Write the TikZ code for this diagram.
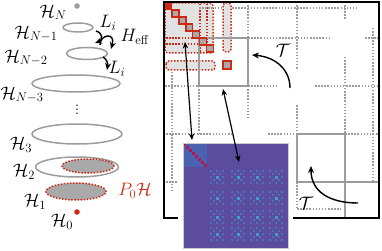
\RequirePackage{fix-cm}
\documentclass[tikz,border=0pt]{standalone}
\usetikzlibrary{arrows.meta}
\definecolor{gr}{HTML}{9C9C9C}
\definecolor{rd}{HTML}{CC2A14}
\definecolor{lg}{HTML}{E2E2E2}
\definecolor{mg}{HTML}{A8A9A8}
\definecolor{pu}{HTML}{5B4C9E}
\definecolor{bl}{HTML}{4A63B0}
\definecolor{bb}{HTML}{4E72BA}
\definecolor{cy}{HTML}{3EA0C8}
\definecolor{cr}{HTML}{B0164F}
\begin{document}
\begin{tikzpicture}[x=1pt,y=-1pt,font=\fontsize{18}{20}\selectfont,
  gdot/.style={gr,line width=1.5pt,dash pattern=on 1.5pt off 1.6pt},
  gsol/.style={gr,line width=1.4pt},
  rdot/.style={rd,line width=1.5pt,dash pattern=on 1.5pt off 1.6pt},
  rblk/.style={rdot,fill=lg,rounded corners=3pt},
  ell/.style={gr,line width=1.5pt},
  rell/.style={rdot,fill=mg},
  sq/.style={draw=rd,line width=1.6pt,fill=mg},
  arr/.style={line width=1.4pt,-{Stealth[length=7pt,width=6pt]}},
  darr/.style={line width=1.2pt,{Stealth[length=6.5pt,width=5.5pt]}-{Stealth[length=6.5pt,width=5.5pt]}},
  lab/.style={inner sep=0pt}]
\useasboundingbox (0,0) rectangle (382,251);
% ---------------- left tower ----------------
\node[lab] (hN) at (53,12.5) {$\mathcal{H}_N$};
\fill[gr] (77,6) circle (2.8pt);
\draw[ell] (78,27.5) ellipse [x radius=15pt,y radius=4.5pt];
\node[lab] (hN1) at (36,34) {$\mathcal{H}_{N-1}$};
\draw[ell] (87,53.5) ellipse [x radius=20.5pt,y radius=6pt];
\node[lab] (hN2) at (26,58) {$\mathcal{H}_{N-2}$};
\draw[ell] (76,83.5) ellipse [x radius=44pt,y radius=8.5pt];
\node[lab] (hN3) at (22,95) {$\mathcal{H}_{N-3}$};
\node[lab] (vd) at (77,107) {$\vdots$};
\draw[ell] (77,134) ellipse [x radius=45pt,y radius=10pt];
\node[lab] (h3) at (21,145) {$\mathcal{H}_3$};
\draw[ell] (77,167) ellipse [x radius=41.5pt,y radius=10pt];
\draw[rell] (88,166) ellipse [x radius=26pt,y radius=7pt];
\node[lab] (h2) at (24,172) {$\mathcal{H}_2$};
\draw[rell] (76,191.5) ellipse [x radius=30pt,y radius=8.5pt];
\node[lab] (h1) at (35,202) {$\mathcal{H}_1$};
\fill[rd] (77,212) circle (2.8pt);
\node[lab] (h0) at (62,222) {$\mathcal{H}_0$};
\node[lab,text=rd] (p0) at (135,191) {$P_0\mathcal{H}$};
\node[lab] (li1) at (108,23) {$L_i$};
\node[lab] (heff) at (135,37) {$H_{\mathrm{eff}}$};
\node[lab] (li2) at (117,69) {$L_i$};
\coordinate (a1s) at (96,31); \coordinate (a1e) at (95,43);
\coordinate (a2s) at (100,45); \coordinate (a2e) at (111,49);
\coordinate (a3s) at (103,57); \coordinate (a3e) at (107,70);
\draw[arr] (a1s) .. controls (103,33) and (103,40) .. (a1e);
\draw[arr] (a2s) .. controls (100,34) and (116,32) .. (a2e);
\draw[arr] (a3s) .. controls (107,59) and (108,64) .. (a3e);
% ---------------- matrix ----------------
\draw[rblk] (165,3) rectangle (213,53);
\draw[rdot] (166,38) -- (212,38);
\draw[rdot] (200,4) -- (200,52);
\draw[rdot] (207,4) -- (207,43);
\draw[rdot] (166,44) -- (206,44);
\draw[rblk] (223,3) rectangle (231,52);
\draw[rblk] (166,61) rectangle (215,70);
% gray grid
\draw[gdot] (199,8) -- (222,8) (232,8) -- (357,8);
\draw[gdot] (248,38) -- (330,38) (365,38) -- (379,38);
\draw[gdot] (165,86) -- (199,86) (248,86) -- (278,86) (315,86) -- (379,86);
\draw[gdot] (166,134) -- (232,134) (268,134) -- (297,134) (345,134) -- (379,134);
\draw[gdot] (166,182) -- (178,182);
\draw[gdot] (297,209) -- (341,209);
\draw[gdot] (172,72) -- (172,192);
\draw[gdot] (199,86) -- (199,134);
\draw[gdot] (248,2) -- (248,38) (248,86) -- (248,118);
\draw[gdot] (297,2) -- (297,70) (297,105) -- (297,134) (297,182) -- (297,209);
\draw[gdot] (345,2) -- (345,20) (345,57) -- (345,134);
\draw[gdot] (373,28) -- (373,180);
\draw[gsol] (199,38) rectangle (248,86);
\draw[gsol] (297,134) rectangle (345,182);
\draw[gsol] (345,182) -- (379,182) (345,182) -- (345,218);
% diagonal squares
\fill[rd] (165,3) rectangle (172,10);
\foreach \k in {1,...,6}{
  \draw[sq] ({165+6.9*\k},{3+7*\k}) rectangle ({165+6.9*(\k+1)},{3+7*(\k+1)});
}
\draw[sq] (223,61) rectangle (231,69);
% frame
\draw[line width=1.3pt] (164,2) rectangle (379,218);
% ---------------- inset ----------------
\fill[white] (178,138) rectangle (293,253);
\fill[pu] (183,143) rectangle (288,248);
\fill[bl] (183,143) rectangle (207,167);
\foreach \k in {0,...,7}{
  \fill[cr] ({183+3*\k},{143+3*\k}) rectangle ({186+3*\k},{146+3*\k});
}
\foreach \cx in {217,238,257,276}{
  \foreach \cy in {177,198,217,234}{
    \foreach \dx/\dy in {-2/0,2/0,0/-2,0/2,-1/-1,-1/1,1/-1,1/1,-2/-2,-2/2,2/-2,2/2}{
      \fill[bb] ({\cx+3*\dx-1.4},{\cy+3*\dy-1.4}) rectangle ++(2.8,2.8);
    }
    \fill[cy] ({\cx-1.5},{\cy-1.5}) rectangle ++(3,3);
  }
}
\draw[gray!40,line width=0.4pt] (183,143) rectangle (288,248);
% ---------------- arrows ----------------
\coordinate (d1a) at (185,42); \coordinate (d1b) at (192,140);
\coordinate (d2a) at (223,89); \coordinate (d2b) at (239,162);
\draw[darr] (d1a) -- (d1b);
\draw[darr] (d2a) -- (d2b);
\coordinate (t1s) at (290,88); \coordinate (t1e) at (252,55);
\draw[arr] (t1s) .. controls (290,70) and (276,57) .. (t1e);
\node[lab] (T1) at (283,50) {$\mathcal{T}$};
\coordinate (t2s) at (358,203); \coordinate (t2e) at (311,166);
\draw[arr] (t2s) .. controls (330,203) and (311,192) .. (t2e);
\node[lab] (T2) at (306,203) {$\mathcal{T}$};
\end{tikzpicture}
\end{document}
